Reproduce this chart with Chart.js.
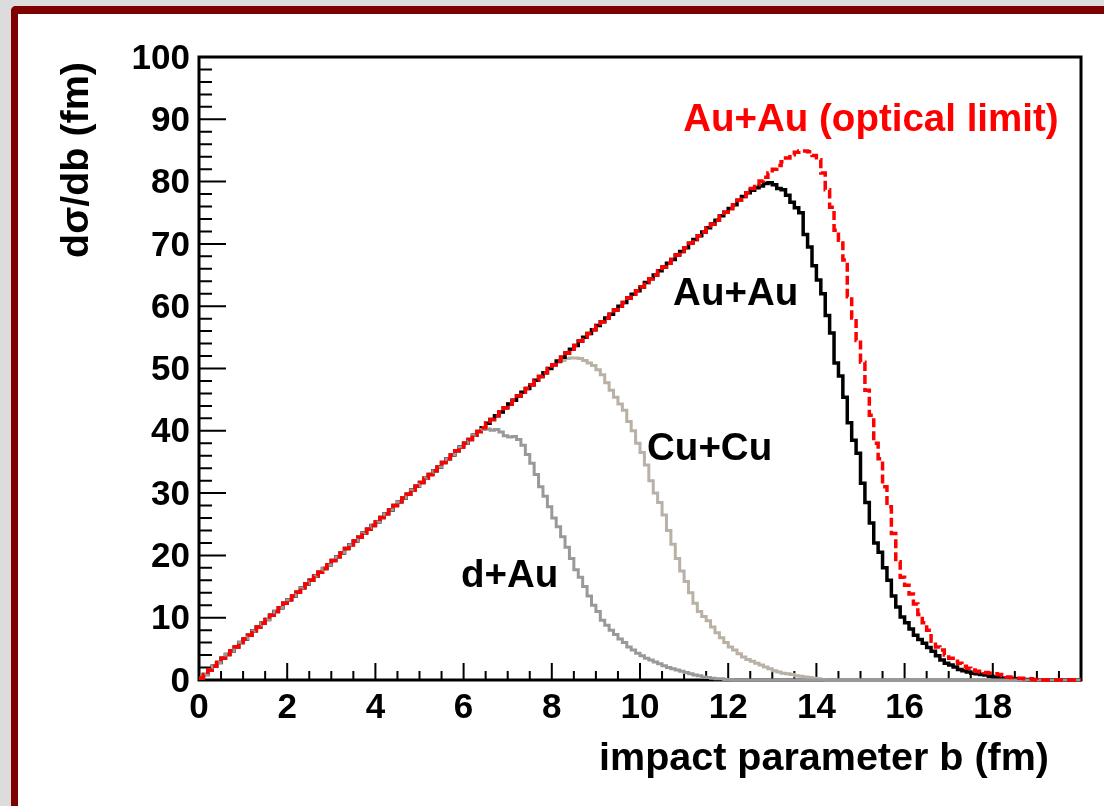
<!DOCTYPE html>
<html><head><meta charset="utf-8">
<script src="https://cdn.jsdelivr.net/npm/chart.js@4.4.1/dist/chart.umd.min.js"></script>
<style>
html,body{margin:0;padding:0;width:1104px;height:806px;overflow:hidden;background:#dcdcdc;}
#frame{position:absolute;left:11px;top:6px;width:1200px;height:900px;background:#fff;border-top:8px solid #800000;border-left:7px solid #800000;border-top-left-radius:5px;box-sizing:border-box;}
#c{position:absolute;left:0;top:0;}
</style></head><body>
<div id="frame"></div>
<canvas id="c" width="1104" height="806"></canvas>
<script>
// ---- data (histograms, bin width 0.1 fm from b = 0) ----
const binStart = 0;
const binWidth = 0.1;
const xTickLabels = ['0','2','4','6','8','10','12','14','16','18'];
const yTickLabels = ['0','10','20','30','40','50','60','70','80','90','100'];
const curveLabels = ['Au+Au (optical limit)', 'Au+Au', 'Cu+Cu', 'd+Au'];

// common rising edge shared by all systems (bins 0..133)
const commonRise = [
  0.3, 0.9, 1.6, 2.2, 2.8, 3.5, 4.1, 4.7, 5.3, 6.0,
  6.6, 7.2, 7.9, 8.5, 9.1, 9.7, 10.4, 11.0, 11.6, 12.3,
  12.9, 13.5, 14.1, 14.8, 15.4, 16.0, 16.7, 17.3, 17.9, 18.5,
  19.2, 19.8, 20.4, 21.1, 21.7, 22.3, 22.9, 23.6, 24.2, 24.8,
  25.4, 26.1, 26.7, 27.3, 28.0, 28.6, 29.2, 29.8, 30.5, 31.1,
  31.7, 32.4, 33.0, 33.6, 34.2, 34.9, 35.5, 36.1, 36.8, 37.4,
  38.0, 38.6, 39.3, 39.9, 40.5, 41.2, 41.8, 42.4, 43.0, 43.7,
  44.3, 44.9, 45.6, 46.2, 46.8, 47.4, 48.1, 48.7, 49.3, 50.0,
  50.6, 51.2, 51.8, 52.5, 53.1, 53.7, 54.4, 55.0, 55.6, 56.2,
  56.9, 57.5, 58.1, 58.7, 59.4, 60.0, 60.6, 61.3, 61.9, 62.5,
  63.1, 63.8, 64.4, 65.0, 65.7, 66.3, 66.9, 67.5, 68.2, 68.8,
  69.4, 70.1, 70.7, 71.3, 71.9, 72.6, 73.2, 73.8, 74.5, 75.1,
  75.7, 76.3, 77.0, 77.6, 78.2, 78.9, 79.5, 80.1, 80.7, 81.4,
  82.0, 82.6, 83.3, 83.9
];

// d+Au: bins 64..199
const dAuTail = [
  40.2, 40.3, 40.1, 40.2, 39.8, 39.2, 39.0, 39.1, 38.6,
  37.7, 36.2, 34.8, 33.0, 31.0, 29.5, 27.8, 26.0, 24.6, 23.0,
  21.3, 19.5, 17.7, 16.5, 15.0, 13.5, 12.0, 11.0, 9.6, 8.8,
  8.0, 7.3, 6.6, 6.0, 5.3, 4.8, 4.3, 3.9, 3.5, 3.2,
  2.9, 2.6, 2.3, 2.0, 1.8, 1.6, 1.4, 1.2, 1.0, 0.8,
  0.7, 0.5, 0.4, 0.3, 0.2, 0.2, 0.1, 0.1,
  0,0,0,0,0,0,0,0,0,0, 0,0,0,0,0,0,0,0,0,0,
  0,0,0,0,0,0,0,0,0,0, 0,0,0,0,0,0,0,0,0,0,
  0,0,0,0,0,0,0,0,0,0, 0,0,0,0,0,0,0,0,0,0,
  0,0,0,0,0,0,0,0,0,0, 0,0,0,0,0,0,0,0,0
];

// Cu+Cu: bins 81..199
const cuCuTail = [
  51.0, 51.3, 51.6, 51.7, 51.7, 51.6, 51.3, 50.9, 50.5, 49.8,
  49.0, 47.7, 46.5, 45.4, 44.3, 43.3, 41.5, 40.0, 38.0,
  36.5, 34.5, 32.0, 30.0, 28.5, 26.5, 24.0, 21.8, 19.5, 17.5,
  15.8, 14.0, 12.3, 11.0, 10.2, 9.5, 8.5, 7.6, 6.8, 6.0, 5.3,
  4.8, 4.2, 3.7, 3.3, 3.0, 2.7, 2.4, 2.1, 1.8, 1.5,
  1.3, 1.1, 1.0, 0.9, 0.7, 0.6, 0.5, 0.4, 0.3, 0.2, 0.1,
  0,0,0,0,0,0,0,0,0,0, 0,0,0,0,0,0,0,0,0,0,
  0,0,0,0,0,0,0,0,0,0, 0,0,0,0,0,0,0,0,0,0,
  0,0,0,0,0,0,0,0,0,0, 0,0,0,0,0,0,0,0
];

// Au+Au (Glauber MC): bins 125..199
const auAuTail = [
  78.6, 79.0, 79.3, 79.7, 79.8, 79.5, 78.9, 78.7, 77.8, 76.7, 75.8,
  75.0, 71.5, 69.5, 66.5, 64.2, 62.0, 58.5, 55.7, 50.9, 48.8,
  45.4, 41.3, 38.5, 36.4, 31.6, 28.5, 25.2, 22.0, 20.5, 18.0,
  16.0, 13.5, 11.7, 10.1,
  9.2, 8.2, 7.2, 6.5, 5.9, 5.2, 4.6, 3.9, 3.2, 2.7,
  2.4, 2.1, 1.7, 1.5, 1.3, 1.1, 1.0, 0.9, 0.8, 0.6,
  0.5, 0.4, 0.3, 0.3, 0.2, 0.2, 0.1, 0.1,
  0,0,0,0,0,0,0,0,0,0,0,0
];

// Au+Au optical limit: bins 132..199
const auAuOpticalTail = [
  83.2, 83.8, 84.3, 84.7, 84.9, 84.9, 84.8, 84.2, 83.5, 81.4,
  78.7, 75.9, 72.2, 70.6, 67.4, 61.5,
  58.1, 54.5, 51.0, 46.5, 42.5, 38.0, 35.5, 31.0, 27.8, 23.5,
  19.0, 16.5, 15.2, 13.8, 12.2, 10.5, 9.2, 8.0, 6.2, 5.3, 4.8, 4.0,
  3.5, 3.0, 2.7, 2.2, 1.9, 1.6, 1.4, 1.3, 1.2, 1.1,
  1.0, 0.9, 0.7, 0.5, 0.4, 0.3, 0.3, 0.2, 0.2, 0.1,
  0,0,0,0,0,0,0,0,0,0
];

const dAu = commonRise.slice(0, 64).concat(dAuTail);
const cuCu = commonRise.slice(0, 81).concat(cuCuTail);
const auAu = commonRise.slice(0, 125).concat(auAuTail);
const auAuOptical = commonRise.slice(0, 132).concat(auAuOpticalTail);

// ---- rendering ----
const FONT = "'Liberation Sans', Arial, Helvetica, sans-serif";

function toPoints(vals) {
  const pts = vals.map((v, i) => ({ x: binStart + i * binWidth, y: v }));
  pts.push({ x: binStart + vals.length * binWidth, y: vals[vals.length - 1] });
  return pts;
}

function histo(label, vals, color, order, width, dash) {
  return {
    label, data: toPoints(vals), borderColor: color, backgroundColor: color,
    borderWidth: width, borderDash: dash || [], stepped: true, pointRadius: 0,
    fill: false, order, clip: 6, borderCapStyle: 'butt', borderJoinStyle: 'miter'
  };
}

const rootPlugin = {
  id: 'rootStyle',
  beforeDatasetsDraw(chart) {
    const ctx = chart.ctx;
    const { left, right, top, bottom } = chart.chartArea;
    const xs = chart.scales.x, ys = chart.scales.y;
    ctx.save();
    ctx.strokeStyle = '#000';
    ctx.lineWidth = 2;
    ctx.beginPath();
    xs.ticks.forEach(t => {
      const px = xs.getPixelForValue(t.value);
      const major = Math.abs(t.value / 2 - Math.round(t.value / 2)) < 1e-6;
      const len = major ? 17 : 9;
      ctx.moveTo(px, bottom); ctx.lineTo(px, bottom - len);
    });
    ys.ticks.forEach(t => {
      const py = ys.getPixelForValue(t.value);
      const major = Math.abs(t.value / 10 - Math.round(t.value / 10)) < 1e-6;
      const len = major ? 27 : 13;
      ctx.moveTo(left, py); ctx.lineTo(left + len, py);
    });
    ctx.stroke();
    ctx.lineWidth = 3;
    ctx.strokeRect(left, top, right - left, bottom - top);
    ctx.restore();
  },
  afterDatasetsDraw(chart) {
    const ctx = chart.ctx;
    const { left, right, top, bottom } = chart.chartArea;
    const xs = chart.scales.x, ys = chart.scales.y;
    ctx.save();
    ctx.textBaseline = 'alphabetic';
    ctx.textAlign = 'left';
    ctx.font = 'bold 38.5px ' + FONT;
    const place = [
      { b: 10.98, v: 88.1, color: '#ff0000' },
      { b: 10.75, v: 60.2, color: '#000000' },
      { b: 10.16, v: 35.3, color: '#000000' },
      { b: 5.94, v: 14.9, color: '#000000' }
    ];
    curveLabels.forEach((txt, i) => {
      ctx.fillStyle = place[i].color;
      ctx.fillText(txt, xs.getPixelForValue(place[i].b), ys.getPixelForValue(place[i].v));
    });
    // axis titles
    ctx.fillStyle = '#000';
    ctx.font = 'bold 39.5px ' + FONT;
    ctx.textAlign = 'right';
    ctx.fillText('impact parameter b (fm)', right - 32, bottom + 90);
    ctx.save();
    ctx.translate(left - 111, top + 5);
    ctx.rotate(-Math.PI / 2);
    ctx.fillText('d\u03c3/db (fm)', 0, 0);
    ctx.restore();
    ctx.restore();
  }
};

const tickFont = { family: FONT, size: 35, weight: 'bold' };

new Chart(document.getElementById('c'), {
  type: 'line',
  data: {
    datasets: [
      histo(curveLabels[0], auAuOptical, '#ff0000', 0, 3.5, [9, 4]),
      histo(curveLabels[3], dAu, '#999999', 1, 3),
      histo(curveLabels[1], auAu, '#000000', 2, 3.5),
      histo(curveLabels[2], cuCu, '#b9b0a6', 3, 3)
    ]
  },
  options: {
    responsive: false,
    animation: false,
    events: [],
    layout: { padding: { left: 0, top: 57, right: 23, bottom: 0 } },
    plugins: { legend: { display: false }, tooltip: { enabled: false }, title: { display: false } },
    scales: {
      x: {
        type: 'linear', min: 0, max: 20,
        border: { display: false },
        grid: { display: false, drawTicks: false },
        ticks: {
          stepSize: 0.5, autoSkip: false, maxRotation: 0, minRotation: 0, padding: 7,
          color: '#000', font: tickFont,
          callback: (v) => { const l = xTickLabels.find(t => Math.abs(Number(t) - v) < 1e-6); return l === undefined ? '' : l; }
        },
        afterFit: (s) => { s.height = 126; }
      },
      y: {
        type: 'linear', min: 0, max: 100,
        border: { display: false },
        grid: { display: false, drawTicks: false },
        ticks: {
          stepSize: 2, autoSkip: false, padding: 9, labelOffset: 2,
          color: '#000', font: tickFont,
          callback: (v) => { const l = yTickLabels.find(t => Math.abs(Number(t) - v) < 1e-6); return l === undefined ? '' : l; }
        },
        afterFit: (s) => { s.width = 199; }
      }
    }
  },
  plugins: [rootPlugin]
});
</script></body></html>
